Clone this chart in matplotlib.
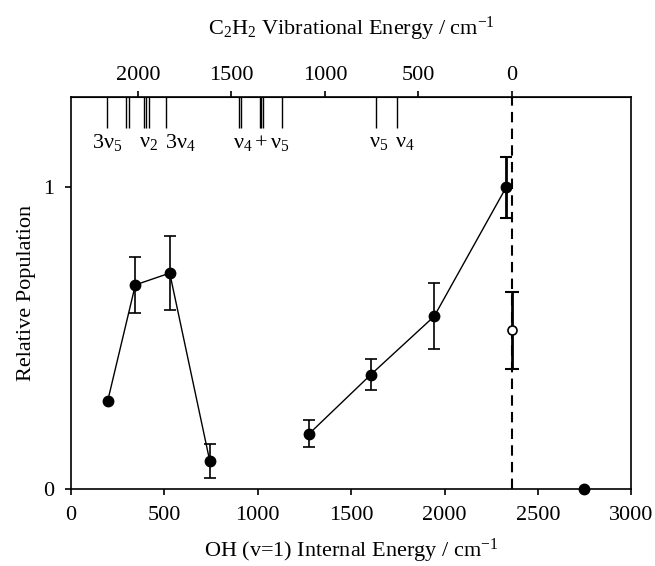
import matplotlib
matplotlib.use("Agg")
import matplotlib.pyplot as plt

plt.rcParams['font.family'] = ['Liberation Serif', 'DejaVu Serif']
plt.rcParams['mathtext.fontset'] = 'custom'
plt.rcParams['mathtext.rm'] = 'Liberation Serif'
plt.rcParams['mathtext.it'] = 'Liberation Serif:italic'
plt.rcParams['mathtext.default'] = 'rm'

# --- data ---
low_x = [198, 346, 530, 744]
low_y = [0.292, 0.677, 0.716, 0.093]
low_err = [0.0, 0.092, 0.123, 0.057]

high_x = [1277, 1605, 1945, 2329]
high_y = [0.184, 0.379, 0.573, 1.0]
high_err = [0.045, 0.052, 0.110, 0.100]

open_x = [2363]
open_y = [0.526]
open_err = [0.127]

lone_x = [2746]
lone_y = [0.0]

e_avail = 2360  # energy available (dashed line), C2H2 zero

c2h2_levels = [2167, 2064, 2050, 1969, 1958, 1943, 1852, 1461, 1447,
               1347, 1341, 1333, 1232, 728, 612]
level_labels = [r'$3\nu_5$', r'$\nu_2$', r'$3\nu_4$', r'$\nu_4+\nu_5$', r'$\nu_5$', r'$\nu_4$']
level_label_E = [2167, 1945, 1775, 1340, 710, 572]

bottom_ticks = [0, 500, 1000, 1500, 2000, 2500, 3000]
top_ticks = [0, 500, 1000, 1500, 2000]

FS = 16

fig = plt.figure(figsize=(6.55, 5.66), dpi=100)
ax = fig.add_axes([0.1079, 0.1360, 0.8562, 0.6926])

ax.set_xlim(0, 3000)
ax.set_ylim(0, 1.3)

# dashed energy limit
ax.axvline(e_avail, color='black', lw=1.5, ls=(0, (5, 3)), zorder=1)

# lines + error bars
ax.plot(low_x, low_y, color='black', lw=1.0, zorder=2)
ax.plot(high_x, high_y, color='black', lw=1.0, zorder=2)

ax.errorbar(low_x[1:], low_y[1:], yerr=low_err[1:], fmt='none', ecolor='black',
            elinewidth=1.2, capsize=4, capthick=1.2, zorder=2)
ax.errorbar(high_x[:3], high_y[:3], yerr=high_err[:3], fmt='none', ecolor='black',
            elinewidth=1.2, capsize=4, capthick=1.2, zorder=2)
ax.errorbar(high_x[3:], high_y[3:], yerr=high_err[3:], fmt='none', ecolor='black',
            elinewidth=2.0, capsize=4, capthick=1.5, zorder=2)
ax.errorbar(open_x, open_y, yerr=open_err, fmt='none', ecolor='black',
            elinewidth=2.0, capsize=5, capthick=1.5, zorder=2)

ax.plot(low_x, low_y, 'o', color='black', ms=7.5, zorder=3)
ax.plot(high_x, high_y, 'o', color='black', ms=7.5, zorder=3)
ax.plot(open_x, open_y, 'o', mfc='white', mec='black', mew=1.2, ms=6.5, zorder=3)
ax.plot(lone_x, lone_y, 'o', color='black', ms=7.5, zorder=3, clip_on=False)

# C2H2 vibrational levels
lev_x = [e_avail - e for e in c2h2_levels]
ax.vlines(lev_x, 1.198, 1.3, color='black', lw=1.0)
for lab, e in zip(level_labels, level_label_E):
    ax.text(e_avail - e, 1.148, lab, ha='center', va='center', fontsize=FS)

ax.set_xticks(bottom_ticks)
ax.set_yticks([0, 1])
ax.set_yticklabels(['0', '1'])
ax.tick_params(axis='both', direction='out', length=4, width=1.2, labelsize=FS, pad=8)
ax.tick_params(axis='x', top=False)
for s in ax.spines.values():
    s.set_linewidth(1.2)

ax.set_xlabel(r'OH (v=1) Internal Energy / cm$^{-1}$', fontsize=FS, labelpad=9)
ax.set_ylabel('Relative Population', fontsize=FS, labelpad=5)

sec = ax.secondary_xaxis('top', functions=(lambda x: e_avail - x, lambda e: e_avail - e))
sec.set_xticks(top_ticks)
sec.tick_params(direction='out', length=4, width=1.2, labelsize=FS, pad=5)
sec.set_xlabel(r'C$_2$H$_2$ Vibrational Energy / cm$^{-1}$', fontsize=FS, labelpad=22)

fig.savefig('out.png', dpi=100)
